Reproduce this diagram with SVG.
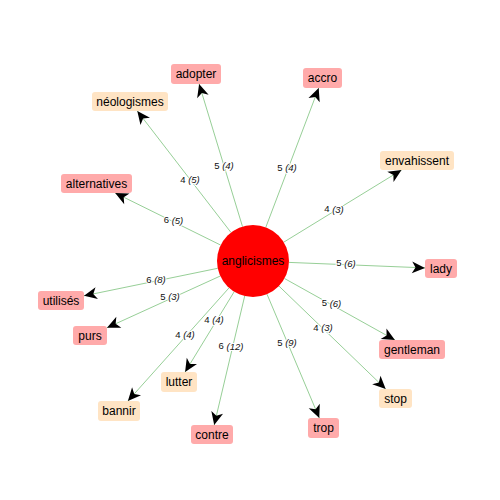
<svg xmlns="http://www.w3.org/2000/svg" width="500" height="500" viewBox="0 0 500 500">
<style>
.e{stroke:#97cf97;stroke-width:1;fill:none;marker-end:url(#ah)}
.pk{fill:#ffaaaa}
.pc{fill:#ffe4c4}
.t{font-family:"Liberation Sans",Arial,sans-serif;font-size:12px;fill:#000;text-anchor:middle;dominant-baseline:central}
.l{font-family:"Liberation Sans",Arial,sans-serif;font-size:9.5px;fill:#111;text-anchor:middle;dominant-baseline:central;stroke:#fff;stroke-width:2;paint-order:stroke;stroke-linejoin:round}
.i{font-style:italic}
</style>
<defs>
<marker id="ah" viewBox="-14 -7 15 14" refX="0" refY="0" markerWidth="15" markerHeight="14" markerUnits="userSpaceOnUse" orient="auto">
<path d="M0,0 L-13,-6 L-9.5,0 L-13,6 Z" fill="#000"/>
</marker>
</defs>
<rect width="500" height="500" fill="#fff"/>
<g id="connectors">
<line class="e" x1="242.5" y1="226.6" x2="199.1" y2="84.0"/>
<line class="e" x1="231.0" y1="232.5" x2="137.3" y2="111.0"/>
<line class="e" x1="265.8" y1="227.3" x2="318.7" y2="88.0"/>
<line class="e" x1="283.7" y1="242.2" x2="401.5" y2="170.0"/>
<line class="e" x1="220.7" y1="245.1" x2="115.2" y2="193.0"/>
<line class="e" x1="289.0" y1="262.4" x2="425.0" y2="267.9"/>
<line class="e" x1="284.5" y1="278.5" x2="394.9" y2="340.0"/>
<line class="e" x1="278.9" y1="286.0" x2="385.7" y2="389.0"/>
<line class="e" x1="217.7" y1="268.3" x2="84.0" y2="295.8"/>
<line class="e" x1="220.3" y1="276.0" x2="107.0" y2="327.7"/>
<line class="e" x1="234.2" y1="291.7" x2="185.1" y2="372.0"/>
<line class="e" x1="229.0" y1="287.9" x2="127.9" y2="401.0"/>
<line class="e" x1="244.7" y1="296.0" x2="214.2" y2="425.0"/>
<line class="e" x1="267.0" y1="294.2" x2="319.3" y2="418.0"/>
<text class="l" x="224" y="165">5 <tspan class="i">(4)</tspan></text>
<text class="l" x="190" y="179">4 <tspan class="i">(5)</tspan></text>
<text class="l" x="287" y="167">5 <tspan class="i">(4)</tspan></text>
<text class="l" x="334" y="208.5">4 <tspan class="i">(3)</tspan></text>
<text class="l" x="173.5" y="219.5">6 <tspan class="i">(5)</tspan></text>
<text class="l" x="346" y="262.5">5 <tspan class="i">(6)</tspan></text>
<text class="l" x="331.5" y="302.5">5 <tspan class="i">(6)</tspan></text>
<text class="l" x="323" y="327">4 <tspan class="i">(3)</tspan></text>
<text class="l" x="156" y="279">6 <tspan class="i">(8)</tspan></text>
<text class="l" x="170" y="296">5 <tspan class="i">(3)</tspan></text>
<text class="l" x="214" y="319">4 <tspan class="i">(4)</tspan></text>
<text class="l" x="185" y="334">4 <tspan class="i">(4)</tspan></text>
<text class="l" x="231" y="345.5">6 <tspan class="i">(12)</tspan></text>
<text class="l" x="287" y="342">5 <tspan class="i">(9)</tspan></text>
</g>
<g id="anglicismes"><circle cx="253" cy="261" r="36" fill="#ff0000"/><text class="t" x="253" y="261">anglicismes</text></g>
<g id="adopter"><rect class="pk" x="171" y="64" width="50" height="20" rx="3"/><text class="t" x="196" y="74">adopter</text></g>
<g id="neologismes"><rect class="pc" x="92" y="92" width="76" height="19" rx="3"/><text class="t" x="130" y="101.5">néologismes</text></g>
<g id="accro"><rect class="pk" x="303" y="68" width="39" height="20" rx="3"/><text class="t" x="322.5" y="78">accro</text></g>
<g id="envahissent"><rect class="pc" x="380" y="151" width="74" height="19" rx="3"/><text class="t" x="417" y="160.5">envahissent</text></g>
<g id="alternatives"><rect class="pk" x="61" y="174" width="71" height="19" rx="3"/><text class="t" x="96.5" y="183.5">alternatives</text></g>
<g id="lady"><rect class="pk" x="425" y="259" width="32" height="19" rx="3"/><text class="t" x="441" y="268.5">lady</text></g>
<g id="gentleman"><rect class="pk" x="379" y="340" width="66" height="19" rx="3"/><text class="t" x="412" y="349.5">gentleman</text></g>
<g id="stop"><rect class="pc" x="379" y="389" width="33" height="19" rx="3"/><text class="t" x="395.5" y="398.5">stop</text></g>
<g id="utilises"><rect class="pk" x="38" y="291" width="46" height="19" rx="3"/><text class="t" x="61" y="300.5">utilisés</text></g>
<g id="purs"><rect class="pk" x="73" y="326" width="34" height="19" rx="3"/><text class="t" x="90" y="335.5">purs</text></g>
<g id="lutter"><rect class="pc" x="161" y="372" width="36" height="20" rx="3"/><text class="t" x="179" y="382">lutter</text></g>
<g id="bannir"><rect class="pc" x="98" y="401" width="42" height="20" rx="3"/><text class="t" x="119" y="411">bannir</text></g>
<g id="contre"><rect class="pk" x="191" y="425" width="42" height="19" rx="3"/><text class="t" x="212" y="434.5">contre</text></g>
<g id="trop"><rect class="pk" x="308" y="418" width="31" height="20" rx="3"/><text class="t" x="323.5" y="428">trop</text></g>
</svg>
